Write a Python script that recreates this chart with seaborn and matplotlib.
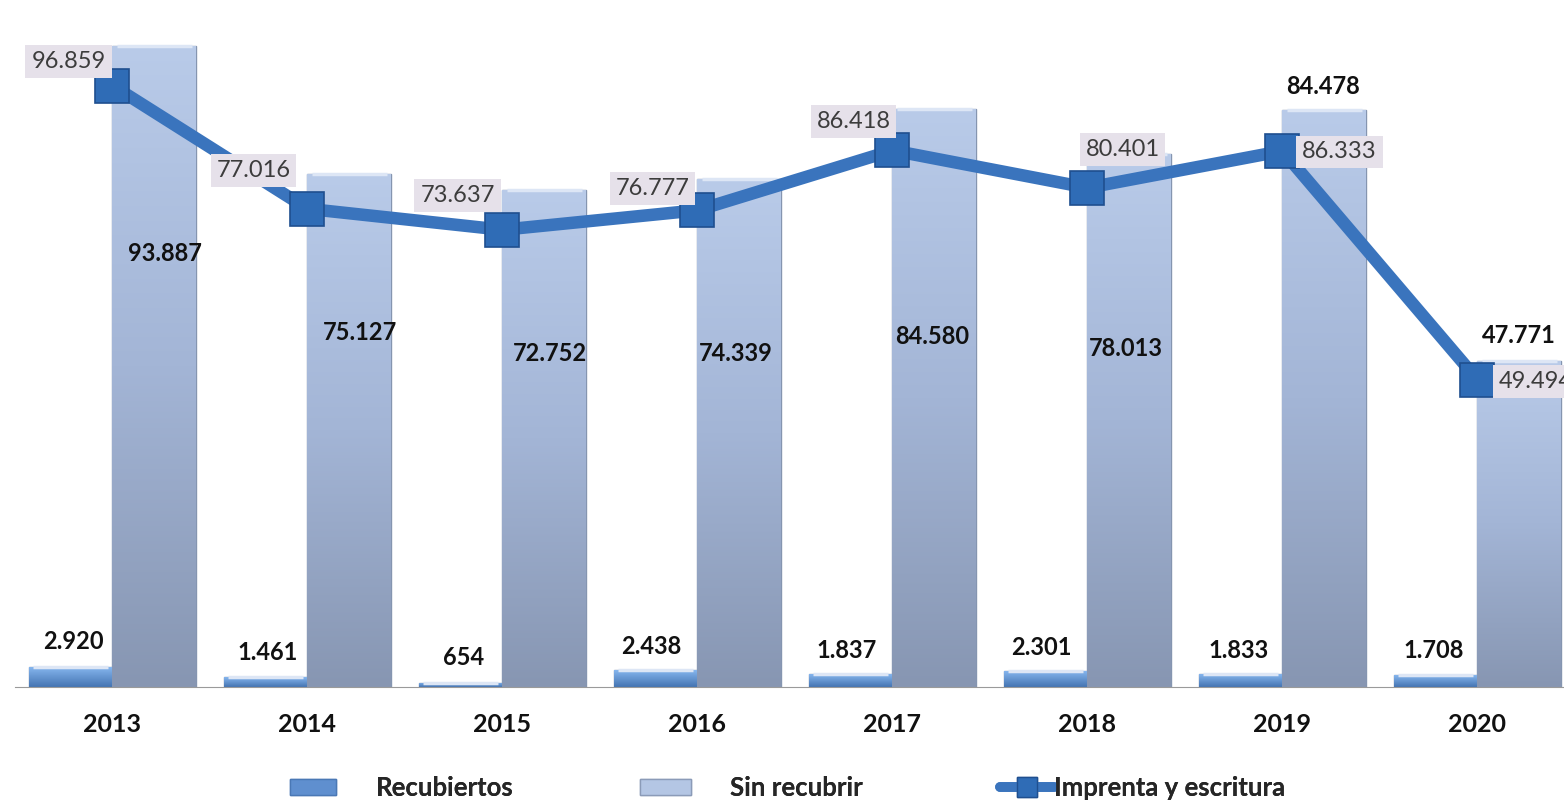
import numpy as np
import pandas as pd
import seaborn as sns
import matplotlib.pyplot as plt
from matplotlib.patches import Patch
from matplotlib.lines import Line2D
from matplotlib.colors import LinearSegmentedColormap

# -------------------------------
# DATA
# -------------------------------
years = ["2013", "2014", "2015", "2016", "2017", "2018", "2019", "2020"]
recubiertos = [2920, 1461, 654, 2438, 1837, 2301, 1833, 1708]
sin_recubrir = [93887, 75127, 72752, 74339, 84580, 78013, 84478, 47771]
imprenta = [96859, 77016, 73637, 76777, 86418, 80401, 86333, 49494]

series_names = ["Recubiertos", "Sin recubrir"]
line_name = "Imprenta y escritura"


def fmt(v):
    # Spanish thousands separator
    return f"{v:,}".replace(",", ".")


df = pd.DataFrame({
    "Año": years * 2,
    "Serie": [series_names[0]] * len(years) + [series_names[1]] * len(years),
    "Valor": recubiertos + sin_recubrir,
})

# -------------------------------
# FIGURE
# -------------------------------
sns.set_style("white")
plt.rcParams["font.family"] = ["Lato", "DejaVu Sans"]

fig = plt.figure(figsize=(15.64, 8.02), dpi=100)
ax = fig.add_axes([15 / 1564, 115 / 802, 1560 / 1564, 683 / 802])

bar_cols = {"Recubiertos": "#5f8fcf", "Sin recubrir": "#a9bcdc"}
sns.barplot(data=df, x="Año", y="Valor", hue="Serie", palette=bar_cols,
            width=0.86, dodge=True, ax=ax, legend=False, saturation=1,
            edgecolor="#8595b0", linewidth=1.0)

# gradient fill on top of each bar
grad_sin = LinearSegmentedColormap.from_list("g1", ["#8796b2", "#a3b5d6", "#b9cbe9"])
grad_rec = LinearSegmentedColormap.from_list("g2", ["#4474b2", "#86b6ee"])
for i, bar in enumerate(ax.patches):
    x0, w, h = bar.get_x(), bar.get_width(), bar.get_height()
    if h <= 0:
        continue
    cmap = grad_rec if i < len(years) else grad_sin
    grad = np.linspace(0, 1, 256).reshape(-1, 1)
    im = ax.imshow(grad, extent=[x0, x0 + w, 0, h], origin="lower",
                   cmap=cmap, aspect="auto", zorder=bar.get_zorder() + 0.1)
    im.set_clip_path(bar)
    # lighter cap on the top edge
    ax.plot([x0 + w * 0.05, x0 + w * 0.95], [h, h], color="#dde6f5",
            lw=2.5, zorder=bar.get_zorder() + 0.2, solid_capstyle="butt")
ax.set_xlim(-0.5, len(years) - 0.5)
ax.set_ylim(0, 100000)

# bar labels (offsets in pixels from the bar top)
rec_off = [(3, 26), (2, 25), (3, 25), (-4, 24), (-4, 24), (-4, 24), (-2, 24), (-2, 25)]
sin_off = [(11, -208), (11, -159), (6, -163), (-4, -174), (-2, -227), (-4, -194), (-1, 24), (-1, 25)]
for i, bar in enumerate(ax.patches[:len(years)]):
    cx = bar.get_x() + bar.get_width() / 2
    ax.annotate(fmt(recubiertos[i]), (cx, recubiertos[i]), xytext=rec_off[i],
                textcoords="offset pixels", ha="center", va="center",
                fontsize=17, fontweight="bold", color="#111111", zorder=6)
for i, bar in enumerate(ax.patches[len(years):2 * len(years)]):
    cx = bar.get_x() + bar.get_width() / 2
    ax.annotate(fmt(sin_recubrir[i]), (cx, sin_recubrir[i]), xytext=sin_off[i],
                textcoords="offset pixels", ha="center", va="center",
                fontsize=17, fontweight="bold", color="#111111", zorder=6)

# -------------------------------
# LINE ON SECONDARY AXIS
# -------------------------------
ax2 = ax.twinx()
ax2.set_ylim(0, 110000)
sns.lineplot(x=np.arange(len(years)), y=imprenta, ax=ax2, color="#3a74bd",
             linewidth=9, marker="s", markersize=24,
             markerfacecolor="#2f6cb6", markeredgecolor="#1f4f8f",
             markeredgewidth=1.2, zorder=5)
ax2.set_xlim(-0.5, len(years) - 0.5)

line_off = [(-44, 24), (-54, 38), (-45, 34), (-45, 22), (-39, 29), (35, 38), (57, -1), (58, -2)]
for i, v in enumerate(imprenta):
    ax2.annotate(fmt(v), (i, v), xytext=line_off[i], textcoords="offset pixels",
                 ha="center", va="center", fontsize=17, color="#3c3c3c",
                 bbox=dict(boxstyle="square,pad=0.25", fc="#e6e1ea", ec="none"),
                 zorder=7, annotation_clip=False)

# -------------------------------
# AXES STYLING
# -------------------------------
for a in (ax, ax2):
    for s in ("top", "right", "left"):
        a.spines[s].set_visible(False)
    a.set_yticks([])
    a.set_ylabel("")
ax.spines["bottom"].set_color("#9a9a9a")
ax2.spines["bottom"].set_visible(False)
ax.set_xlabel("")
ax.tick_params(axis="x", which="major", length=0, pad=19, labelsize=18)
for lab in ax.get_xticklabels():
    lab.set_fontweight("bold")
    lab.set_color("#111111")
ax.set_xticks(np.arange(-0.5, len(years)), minor=True)
ax.tick_params(axis="x", which="minor", length=7, color="#9a9a9a", width=1)

# legend: one entry each, placed along the bottom
handles = [
    Patch(facecolor="#5f8fcf", edgecolor="#4a78b5"),
    Patch(facecolor="#b4c6e4", edgecolor="#8b9bb8"),
    Line2D([0], [0], color="#3a74bd", lw=7, marker="s", markersize=14,
           markerfacecolor="#2f6cb6", markeredgecolor="#1f4f8f"),
]
labels = series_names + [line_name]
leg_x = [290, 640, 1000]
leg_pad = [1.55, 1.5, 0.0]
leg_len = [1.8, 2.0, 2.1]
for h, lab, x, pad, hl in zip(handles, labels, leg_x, leg_pad, leg_len):
    lg = fig.legend([h], [lab], loc="center left",
                    bbox_to_anchor=(x / 1564, 1 - 788 / 802), frameon=False,
                    handlelength=hl, handleheight=0.6, handletextpad=pad,
                    borderpad=0, borderaxespad=0,
                    prop={"size": 18.5, "weight": "bold"})
    fig.add_artist(lg)

fig.savefig("out.png", dpi=100)
